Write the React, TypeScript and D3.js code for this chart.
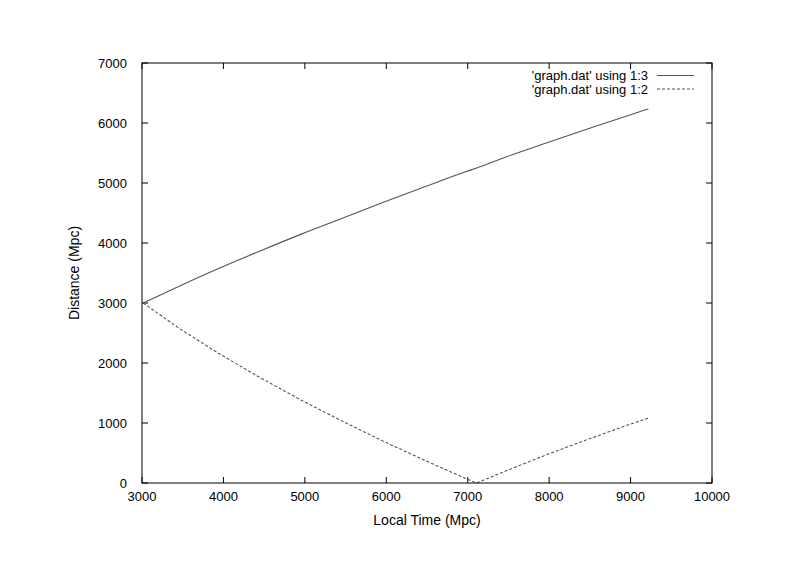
import React from "react";
import * as d3 from "d3";

const timeValues = [3015, 3443, 3947, 4452, 4956, 5460, 5965, 6469, 6974, 7111, 7478, 7982, 8487, 8991, 9218];
const series13 = [3000, 3272, 3578, 3868, 4148, 4413, 4681, 4936, 5186, 5250, 5438, 5676, 5907, 6134, 6235];
const series12 = [3000, 2590, 2155, 1755, 1380, 1030, 695, 380, 75, 0, 207, 478, 733, 978, 1082];
const xTicks = [3000, 4000, 5000, 6000, 7000, 8000, 9000, 10000];
const yTicks = [0, 1000, 2000, 3000, 4000, 5000, 6000, 7000];
const legendLabels = ["'graph.dat' using 1:3", "'graph.dat' using 1:2"];

export default function App() {
  const W = 800, H = 565;
  const left = 142, right = 712, top = 63, bottom = 483;
  const x = d3.scaleLinear().domain([3000, 10000]).range([left, right]);
  const y = d3.scaleLinear().domain([0, 7000]).range([bottom, top]);
  const lineSmooth = d3.line<number>().x((_, i) => x(timeValues[i])).y((d) => y(d)).curve(d3.curveMonotoneX);
  const lineStraight = d3.line<number>().x((_, i) => x(timeValues[i])).y((d) => y(d));
  const font = "'Liberation Sans', Arial, sans-serif";
  const tl = 6;
  const lineColor = "#555";
  const series = [
    { values: series13, dash: undefined as string | undefined, gen: lineSmooth },
    { values: series12, dash: "3,2", gen: lineStraight },
  ];
  return (
    <svg width={W} height={H} style={{ position: "absolute", left: 0, top: 0, background: "#fff" }} fontFamily={font}>
      <rect x={0} y={0} width={W} height={H} fill="#fff" />
      {xTicks.map((t) => (
        <g key={"x" + t}>
          <line x1={x(t)} x2={x(t)} y1={bottom} y2={bottom - tl} stroke="#000" />
          <line x1={x(t)} x2={x(t)} y1={top} y2={top + tl} stroke="#000" />
          <text x={x(t)} y={501} textAnchor="middle" fontSize={13} fill="#000">{t}</text>
        </g>
      ))}
      {yTicks.map((t) => (
        <g key={"y" + t}>
          <line x1={left} x2={left + tl} y1={y(t)} y2={y(t)} stroke="#000" />
          <line x1={right} x2={right - tl} y1={y(t)} y2={y(t)} stroke="#000" />
          <text x={127} y={y(t) + 5} textAnchor="end" fontSize={13} fill="#000">{t}</text>
        </g>
      ))}
      {series.map((s, i) => (
        <path key={i} d={s.gen(s.values) || ""} fill="none" stroke={lineColor} strokeWidth={1.1} strokeDasharray={s.dash} />
      ))}
      {legendLabels.map((lab, i) => (
        <g key={lab}>
          <text x={648} y={80 + i * 13.5} textAnchor="end" fontSize={13} fill="#000">{lab}</text>
          <line x1={657} x2={694} y1={75.5 + i * 13.5} y2={75.5 + i * 13.5} stroke={lineColor} strokeDasharray={series[i].dash} />
        </g>
      ))}
      <rect x={left} y={top} width={right - left} height={bottom - top} fill="none" stroke="#000" strokeWidth={1} />
      <text x={(left + right) / 2} y={525} textAnchor="middle" fontSize={14} fill="#000">Local Time (Mpc)</text>
      <text transform={`translate(79,${(top + bottom) / 2}) rotate(-90)`} textAnchor="middle" fontSize={14} fill="#000">Distance (Mpc)</text>
    </svg>
  );
}
